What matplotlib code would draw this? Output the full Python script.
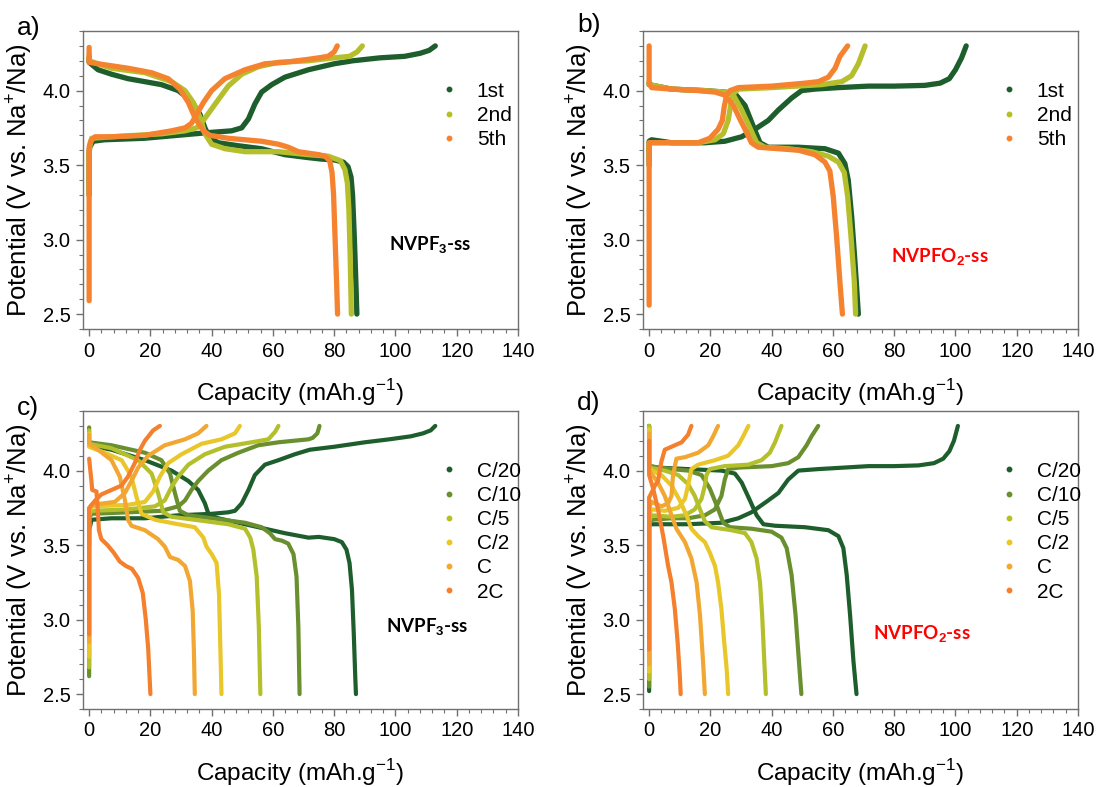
import matplotlib
matplotlib.use('Agg')
import matplotlib.pyplot as plt
from matplotlib.ticker import MultipleLocator
from matplotlib.lines import Line2D

plt.rcParams['font.family'] = ['Liberation Sans', 'DejaVu Sans']
plt.rcParams['mathtext.fontset'] = 'custom'
plt.rcParams['mathtext.rm'] = 'Liberation Sans'
plt.rcParams['mathtext.bf'] = 'Liberation Sans:bold'

# ---- data (capacity mAh/g, potential V) ----
# panel a: NVPF3-ss, cycles 1, 2, 5
a_1st_ch = [(0, 3.30), (0, 3.58), (0.2, 3.62), (1.3, 3.66), (5, 3.67), (18, 3.68), (29, 3.70), (40, 3.72),
            (46.5, 3.73), (49.8, 3.75), (52, 3.81), (54.1, 3.91), (56.3, 3.99), (59.6, 4.04), (63.9, 4.09),
            (71.6, 4.14), (80, 4.18), (86, 4.20), (95, 4.22), (103, 4.23), (108, 4.25), (111, 4.27), (113, 4.30)]
a_1st_dis = [(0, 4.22), (0, 4.19), (2.9, 4.14), (7.3, 4.11), (12.7, 4.08), (18.2, 4.06), (23.6, 4.04), (29.1, 4.00),
             (33.4, 3.93), (36.2, 3.84), (37.8, 3.75), (39.4, 3.68), (42.2, 3.65), (48.7, 3.63), (56.3, 3.61),
             (63.9, 3.57), (71.6, 3.55), (76, 3.54), (80, 3.535), (83, 3.52), (84.5, 3.49), (85.5, 3.42),
             (86, 3.30), (86.6, 3.00), (87.1, 2.70), (87.4, 2.50)]
a_2nd_ch = [(0, 3.30), (0, 3.60), (0.8, 3.68), (7.3, 3.69), (23.6, 3.71), (31.3, 3.73), (35.1, 3.75), (37.3, 3.80),
            (39.4, 3.86), (42.2, 3.94), (45.4, 4.03), (49.8, 4.11), (55.2, 4.16), (61.8, 4.19), (71.6, 4.20),
            (80, 4.22), (85, 4.23), (87.5, 4.26), (89.2, 4.30)]
a_2nd_dis = [(0, 4.24), (0, 4.20), (7.3, 4.15), (18.2, 4.12), (26.9, 4.06), (31.3, 4.00), (34, 3.92), (36.2, 3.82),
             (37.8, 3.71), (40, 3.64), (44.3, 3.61), (50.9, 3.59), (61.8, 3.59), (71.6, 3.57), (78, 3.56),
             (82, 3.53), (83.5, 3.47), (84.3, 3.38), (84.8, 3.20), (85.2, 2.90), (85.5, 2.60), (85.6, 2.50)]
a_5th_ch = [(0, 2.59), (0, 3.62), (0.5, 3.66), (1.9, 3.69), (7.3, 3.69), (18.2, 3.70), (26.9, 3.73), (31.3, 3.75),
            (33.4, 3.78), (35.1, 3.84), (37.3, 3.92), (40, 4.00), (44.3, 4.08), (50.9, 4.14), (57.4, 4.18),
            (63.9, 4.19), (71.6, 4.21), (75, 4.22), (78, 4.23), (80, 4.26), (81, 4.30)]
a_5th_dis = [(0, 4.29), (0, 4.19), (2.9, 4.18), (12.7, 4.15), (20.4, 4.12), (25.8, 4.08), (29.6, 4.01), (32.4, 3.92),
             (34.5, 3.82), (37.3, 3.73), (39.4, 3.70), (45.4, 3.68), (56.3, 3.66), (61.8, 3.64), (65, 3.62),
             (68.3, 3.59), (71.6, 3.58), (75, 3.57), (77, 3.56), (78.5, 3.53), (79.3, 3.45), (79.8, 3.30),
             (80.3, 3.00), (80.8, 2.70), (81.1, 2.50)]

# panel b: NVPFO2-ss, cycles 1, 2, 5
b_1st_ch = [(0, 3.50), (0, 3.66), (0.8, 3.67), (7.3, 3.65), (18.2, 3.65), (24.7, 3.66), (30.2, 3.69), (34.5, 3.74),
            (38.9, 3.80), (42.2, 3.87), (46.5, 3.95), (49.8, 4.00), (54.1, 4.01), (61.8, 4.02), (71.6, 4.03),
            (80, 4.03), (90, 4.035), (95, 4.05), (98, 4.08), (100, 4.14), (102, 4.22), (103.5, 4.30)]
b_1st_dis = [(0, 4.05), (0, 4.04), (7.3, 4.01), (18.2, 4.00), (24.7, 3.99), (28, 3.98), (31.3, 3.90), (34, 3.76),
             (36.2, 3.65), (38.9, 3.62), (48.7, 3.62), (57.4, 3.61), (61.8, 3.58), (63.9, 3.51), (65, 3.40),
             (66.1, 3.16), (67.2, 2.85), (68.3, 2.50)]
b_2nd_ch = [(0, 3.50), (0, 3.65), (0.8, 3.65), (16, 3.65), (21.5, 3.67), (24.2, 3.71), (25.8, 3.80), (26.7, 3.91),
            (27.5, 3.98), (29.1, 4.01), (40, 4.02), (56.3, 4.04), (62.9, 4.06), (66.1, 4.10), (68.3, 4.18),
            (70.5, 4.30)]
b_2nd_dis = [(0, 4.06), (0, 4.04), (7.3, 4.01), (18.2, 4.00), (24.7, 3.99), (27.5, 3.97), (30.2, 3.87), (32.9, 3.75),
             (35.1, 3.65), (37.8, 3.62), (45.4, 3.61), (53, 3.59), (58.5, 3.56), (61.8, 3.52), (63.7, 3.45),
             (64.8, 3.29), (65.9, 3.02), (67, 2.71), (67.4, 2.50)]
b_5th_ch = [(0, 2.56), (0, 3.65), (0.8, 3.65), (7.3, 3.65), (16, 3.65), (19.8, 3.68), (22.5, 3.74), (23.9, 3.80),
            (24.5, 3.89), (25.3, 3.97), (26.4, 4.00), (29.1, 4.02), (40, 4.03), (50.9, 4.05), (55.2, 4.06),
            (58.5, 4.09), (60.7, 4.15), (62.3, 4.23), (64.8, 4.30)]
b_5th_dis = [(0, 4.30), (0, 4.05), (0.8, 4.02), (7.3, 4.01), (16, 4.00), (21.5, 3.99), (24.7, 3.97), (27.5, 3.90),
             (29.6, 3.81), (31.8, 3.72), (33.4, 3.65), (35.6, 3.62), (42.2, 3.61), (48.7, 3.60), (54.1, 3.57),
             (57.4, 3.52), (59, 3.46), (60.1, 3.29), (61.2, 3.02), (62.3, 2.71), (63.1, 2.50)]

# panel c: NVPF3-ss rate test
c_c20_ch = [(0, 3.50), (0, 3.60), (0.8, 3.67), (7.3, 3.68), (18.2, 3.68), (29.1, 3.70), (40, 3.71), (45.4, 3.72),
            (47.6, 3.73), (49.8, 3.78), (52, 3.87), (54.1, 3.97), (57.4, 4.04), (61.8, 4.07), (67.2, 4.11),
            (72, 4.14), (80, 4.16), (90, 4.19), (98, 4.21), (105, 4.23), (109, 4.25), (111.5, 4.27), (113, 4.30)]
c_c20_dis = [(0, 4.20), (0, 4.17), (7.3, 4.14), (18.2, 4.07), (26.9, 4.00), (32.4, 3.93), (35.6, 3.87), (37.8, 3.78),
             (39.1, 3.70), (42.2, 3.68), (50.9, 3.64), (57.4, 3.61), (63.9, 3.58), (71.6, 3.55), (75, 3.555),
             (80, 3.54), (82.5, 3.52), (84, 3.47), (85, 3.38), (85.8, 3.20), (86.4, 2.90), (86.9, 2.60), (87.1, 2.50)]
c_c10_ch = [(0, 2.62), (0, 3.68), (0.8, 3.71), (12.7, 3.72), (23.6, 3.73), (29.1, 3.76), (31.3, 3.80), (33.4, 3.87),
            (35.6, 3.93), (38.9, 4.00), (43.2, 4.07), (48.7, 4.12), (55.2, 4.17), (61.8, 4.19), (71.6, 4.21),
            (73, 4.22), (74.5, 4.25), (75.2, 4.30)]
c_c10_dis = [(0, 4.29), (0, 4.19), (7.3, 4.17), (18.2, 4.12), (23.6, 4.07), (26.4, 3.98), (28, 3.85), (29.6, 3.73),
             (32.4, 3.70), (40, 3.68), (50.9, 3.65), (56.3, 3.62), (59, 3.58), (60.7, 3.54), (62.9, 3.53),
             (65, 3.51), (66.7, 3.44), (67.7, 3.29), (68.3, 2.95), (68.7, 2.50)]
c_c5_ch = [(0, 2.68), (0, 3.70), (0.8, 3.73), (12.7, 3.74), (21.5, 3.76), (24.7, 3.80), (26.9, 3.89), (29.1, 3.96),
           (32.4, 4.04), (37.8, 4.11), (44.3, 4.16), (53, 4.19), (58.5, 4.21), (60.7, 4.26), (61.8, 4.30)]
c_c5_dis = [(0, 4.27), (0, 4.18), (7.3, 4.15), (16, 4.07), (20.4, 3.98), (22.5, 3.85), (24.2, 3.72), (26.9, 3.69),
            (34.5, 3.67), (45.4, 3.64), (50.9, 3.61), (52.6, 3.55), (53.6, 3.47), (54.7, 3.29), (55.4, 2.95),
            (55.9, 2.50)]
c_c2_ch = [(0, 2.75), (0, 3.72), (0.8, 3.76), (12.7, 3.77), (18.2, 3.79), (20.9, 3.86), (23.1, 3.96), (25.8, 4.05),
           (30.2, 4.11), (36.7, 4.18), (43.2, 4.21), (47.6, 4.25), (49.2, 4.30)]
c_c2_dis = [(0, 4.25), (0, 4.16), (5.1, 4.12), (10.6, 4.07), (13.8, 3.96), (15.5, 3.82), (17.1, 3.71), (21.5, 3.67),
            (29.1, 3.64), (34.5, 3.62), (37.3, 3.55), (38.3, 3.49), (40, 3.44), (41.6, 3.38), (42.4, 3.17),
            (42.8, 2.84), (43.2, 2.50)]
c_c1_ch = [(0, 2.85), (0, 3.74), (0.8, 3.77), (8.4, 3.79), (11.7, 3.85), (13.8, 3.93), (16, 4.02), (19.3, 4.10),
           (24.7, 4.17), (31.3, 4.21), (35.6, 4.25), (38.3, 4.30)]
c_c1_dis = [(0, 4.24), (0, 4.18), (2.9, 4.14), (7.3, 4.07), (10, 3.96), (11.7, 3.80), (12.7, 3.67), (13.8, 3.63),
            (18.2, 3.60), (22.5, 3.54), (24.7, 3.49), (26.4, 3.42), (29.1, 3.40), (31.3, 3.36), (32.9, 3.26),
            (33.8, 3.06), (34.2, 2.79), (34.5, 2.50)]
c_2c_ch = [(0, 2.90), (0, 3.75), (2, 3.80), (4, 3.84), (7.3, 3.87), (10.6, 3.90), (12.7, 3.96), (14.9, 4.05),
           (16.6, 4.14), (18.2, 4.20), (20.9, 4.27), (23.1, 4.30)]
c_2c_dis = [(0, 4.08), (0.4, 4.00), (0.8, 3.92), (1.0, 3.87), (2.4, 3.86), (2.8, 3.75), (3.2, 3.60), (4, 3.54),
            (6, 3.50), (8, 3.45), (10, 3.39), (12, 3.36), (14, 3.34), (16, 3.28), (17.5, 3.18), (18.5, 3.00),
            (19.3, 2.80), (20, 2.50)]

# panel d: NVPFO2-ss rate test
d_c20_ch = [(0, 2.52), (0, 3.64), (0.8, 3.64), (12.7, 3.64), (23.6, 3.65), (29.1, 3.68), (33.4, 3.72), (38.9, 3.80),
            (42.2, 3.85), (45.4, 3.94), (48.7, 4.00), (55.2, 4.01), (71.6, 4.03), (80, 4.03), (88, 4.035),
            (93, 4.05), (96, 4.08), (98, 4.13), (99.5, 4.20), (100.8, 4.30)]
d_c20_dis = [(0, 4.30), (0, 4.03), (2.9, 4.02), (12.7, 4.01), (23.6, 4.00), (28, 3.98), (30.2, 3.92), (32.9, 3.80),
             (35.1, 3.70), (37.3, 3.64), (41.1, 3.63), (50.9, 3.62), (58.5, 3.60), (61.8, 3.56), (63.4, 3.48),
             (64.5, 3.30), (65.6, 3.03), (66.7, 2.72), (67.7, 2.50)]
d_c10_ch = [(0, 2.55), (0, 3.64), (0.8, 3.67), (7.3, 3.68), (12.7, 3.68), (18.2, 3.70), (21.5, 3.74), (23.6, 3.83),
            (24.7, 3.94), (25.8, 4.01), (29.1, 4.02), (40, 4.03), (45.4, 4.05), (48.7, 4.09), (51.4, 4.17),
            (53, 4.23), (55.2, 4.30)]
d_c10_dis = [(0, 4.30), (0, 4.03), (7.3, 4.01), (12.7, 4.00), (17.1, 3.97), (19.8, 3.88), (22, 3.77), (24.2, 3.65),
             (26.4, 3.62), (33.4, 3.61), (40, 3.59), (43.2, 3.55), (44.9, 3.48), (46.5, 3.30), (47.8, 3.03),
             (48.9, 2.72), (49.7, 2.50)]
d_c5_ch = [(0, 2.60), (0, 3.66), (0.8, 3.70), (7.3, 3.69), (11.7, 3.70), (14.9, 3.74), (17.1, 3.81), (18.2, 3.90),
           (18.7, 3.97), (19.8, 4.01), (24.7, 4.03), (32.4, 4.04), (36.7, 4.07), (39.4, 4.12), (41.1, 4.19),
           (43.2, 4.30)]
d_c5_dis = [(0, 4.30), (0, 4.02), (5.1, 4.00), (9.5, 3.97), (12.7, 3.91), (14.9, 3.83), (16.6, 3.74), (18.2, 3.66),
            (20.4, 3.62), (26.9, 3.60), (31.3, 3.58), (33.4, 3.52), (35.1, 3.41), (36.2, 3.25), (36.9, 3.03),
            (37.6, 2.72), (38.1, 2.50)]
d_c2_ch = [(0, 2.65), (0, 3.70), (0.8, 3.74), (5.1, 3.73), (9.5, 3.75), (11.7, 3.81), (12.7, 3.90), (13.8, 4.01),
           (16, 4.04), (21.5, 4.07), (25.8, 4.10), (29.1, 4.17), (30.7, 4.23), (32.4, 4.30)]
d_c2_dis = [(0, 4.28), (0, 4.01), (4, 3.97), (7.3, 3.90), (10, 3.80), (12.2, 3.70), (13.8, 3.61), (16, 3.56),
            (18.2, 3.52), (19.8, 3.45), (21.5, 3.36), (22.5, 3.25), (23.6, 3.07), (24.5, 2.85), (25.3, 2.67),
            (25.8, 2.50)]
d_c1_ch = [(0, 2.70), (0, 3.75), (0.8, 3.79), (4, 3.76), (6.2, 3.78), (7.3, 3.83), (7.8, 3.97), (8.9, 4.08),
           (11.7, 4.09), (16, 4.12), (19.3, 4.17), (20.9, 4.23), (22.5, 4.30)]
d_c1_dis = [(0, 4.25), (0, 4.00), (2.9, 3.92), (5.1, 3.83), (7.3, 3.70), (8.9, 3.61), (11.7, 3.52), (13.8, 3.41),
            (15.5, 3.25), (16.6, 3.03), (17.6, 2.72), (18.2, 2.50)]
d_2c_ch = [(0, 2.80), (0, 3.82), (1, 3.86), (1.9, 3.90), (2.9, 3.93), (4, 4.06), (5.1, 4.14), (7.3, 4.16),
           (10.6, 4.19), (12.7, 4.24), (13.8, 4.30)]
d_2c_dis = [(0, 4.20), (0, 3.97), (1.3, 3.88), (2.9, 3.74), (4.6, 3.56), (6.2, 3.36), (7.3, 3.25), (8.4, 3.07),
            (9.3, 2.85), (10, 2.63), (10.3, 2.50)]

cycle_labels = ['1st', '2nd', '5th']
cycle_colors = ['#1d5e2c', '#b5bf2c', '#f5822f']
rate_labels = ['C/20', 'C/10', 'C/5', 'C/2', 'C', '2C']
rate_colors = ['#1d5e2c', '#6a8f2f', '#b3bf2b', '#e9c62a', '#f1a731', '#f47f2d']

panels = [
    ('a)', [a_1st_ch, a_2nd_ch, a_5th_ch], [a_1st_dis, a_2nd_dis, a_5th_dis], cycle_labels, cycle_colors,
     r'NVPF$_\mathbf{3}$-ss', 'black', (98, 2.96), 3.8),
    ('b)', [b_1st_ch, b_2nd_ch, b_5th_ch], [b_1st_dis, b_2nd_dis, b_5th_dis], cycle_labels, cycle_colors,
     r'NVPFO$_\mathbf{2}$-ss', 'red', (79, 2.88), 3.8),
    ('c)', [c_c20_ch, c_c10_ch, c_c5_ch, c_c2_ch, c_c1_ch, c_2c_ch],
     [c_c20_dis, c_c10_dis, c_c5_dis, c_c2_dis, c_c1_dis, c_2c_dis], rate_labels, rate_colors,
     r'NVPF$_\mathbf{3}$-ss', 'black', (97, 2.95), 3.0),
    ('d)', [d_c20_ch, d_c10_ch, d_c5_ch, d_c2_ch, d_c1_ch, d_2c_ch],
     [d_c20_dis, d_c10_dis, d_c5_dis, d_c2_dis, d_c1_dis, d_2c_dis], rate_labels, rate_colors,
     r'NVPFO$_\mathbf{2}$-ss', 'red', (73, 2.90), 3.0),
]

W, H = 1102, 787
fig = plt.figure(figsize=(W / 100, H / 100), dpi=100)
# axes boxes in pixels: left, top, right, bottom
boxes = [(83, 31, 518, 329), (643, 31, 1078, 329), (83, 411, 518, 709), (643, 411, 1078, 709)]
letter_pos = [(17, 28), (577, 25), (17, 408), (577, 403)]

for (letter, charges, discharges, labels, colors, tag, tagcolor, tagxy, lw), box, lp in zip(panels, boxes, letter_pos):
    l, t, r, b = box
    ax = fig.add_axes([l / W, 1 - b / H, (r - l) / W, (b - t) / H])
    for ch, dis, col in zip(charges, discharges, colors):
        for seg in (ch, dis):
            xs = [p[0] for p in seg]
            ys = [p[1] for p in seg]
            ax.plot(xs, ys, color=col, lw=lw, solid_capstyle='round', solid_joinstyle='round')
    handles = [Line2D([], [], ls='none', marker='o', ms=3.2, color=c) for c in colors]
    ax.legend(handles, labels, frameon=False, fontsize=15, loc='upper left',
              bbox_to_anchor=(0.814, 0.83), borderpad=0, borderaxespad=0,
              handlelength=1.1, handletextpad=0.8, labelspacing=0.25)
    ax.text(tagxy[0], tagxy[1], tag, color=tagcolor, fontsize=13.5, fontweight='bold',
            family=['Lato', 'DejaVu Sans'], va='center', ha='left')
    ax.set_xlim(-2, 140)
    ax.set_ylim(2.4, 4.4)
    ax.xaxis.set_major_locator(MultipleLocator(20))
    ax.xaxis.set_minor_locator(MultipleLocator(4))
    ax.yaxis.set_major_locator(MultipleLocator(0.5))
    ax.yaxis.set_minor_locator(MultipleLocator(0.1))
    ax.yaxis.set_major_formatter('{x:.1f}')
    ax.tick_params(which='both', direction='out', color='#707070', labelsize=14.5, top=False, right=False)
    ax.tick_params(which='major', length=5, width=1, pad=4)
    ax.tick_params(which='minor', length=3, width=0.8)
    for s in ax.spines.values():
        s.set_color('#707070')
        s.set_linewidth(1)
    ax.set_xlabel('Capacity (mAh.g$^{-1}$)', fontsize=17.5, labelpad=12)
    ax.set_ylabel('Potential (V vs. Na$^{+}$/Na)', fontsize=18.5, labelpad=6)
    fig.text(lp[0] / W, 1 - lp[1] / H, letter, fontsize=19, va='center', ha='left')

fig.savefig('out.png', dpi=100)
